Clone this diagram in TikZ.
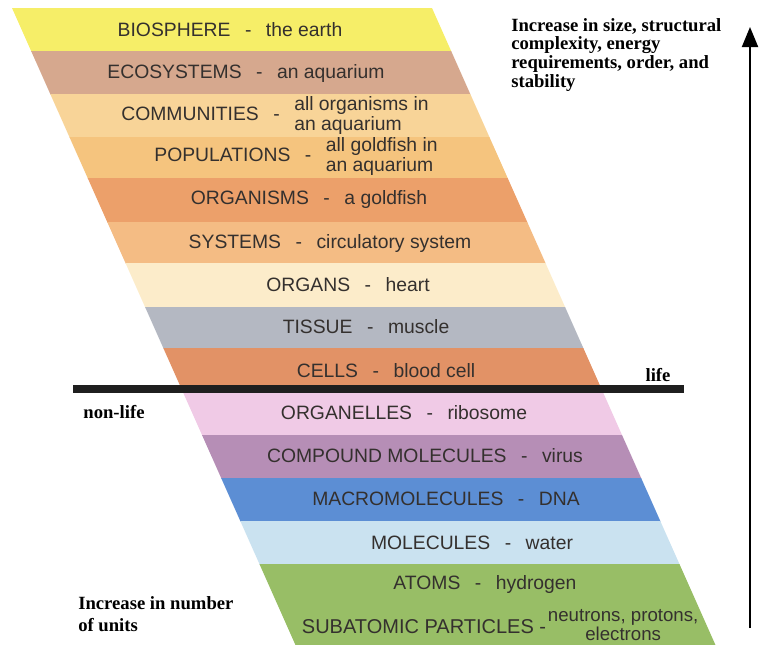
\documentclass[tikz,border=0pt]{standalone}
\usepackage{fontspec}
\setmainfont{Liberation Serif}
\setsansfont{Liberation Sans}
\usepackage{tikz}
\usetikzlibrary{arrows.meta}

\definecolor{bioC}{RGB}{246,238,104}
\definecolor{ecoC}{RGB}{214,168,142}
\definecolor{comC}{RGB}{248,212,152}
\definecolor{popC}{RGB}{245,196,126}
\definecolor{orgC}{RGB}{236,160,106}
\definecolor{sysC}{RGB}{244,188,132}
\definecolor{orgnC}{RGB}{252,236,202}
\definecolor{tisC}{RGB}{180,184,194}
\definecolor{celC}{RGB}{226,146,102}
\definecolor{elleC}{RGB}{240,202,230}
\definecolor{compC}{RGB}{182,142,182}
\definecolor{macC}{RGB}{92,142,212}
\definecolor{molC}{RGB}{202,226,240}
\definecolor{atoC}{RGB}{152,190,102}
\definecolor{lvltext}{RGB}{52,48,46}

\newcommand{\lsep}{\hspace{0.75em}-\hspace{0.75em}}
\newcommand{\twoline}[2]{\begin{tabular}{@{}l@{}}#1\\#2\end{tabular}}

\begin{document}
\begin{tikzpicture}[
x=0.75pt, y=-0.75pt,
level/.style={font=\sffamily\fontsize{14.5}{15}\selectfont, text=lvltext, inner sep=0pt},
note/.style={font=\bfseries\fontsize{14}{14}\selectfont, align=left, inner sep=0pt, anchor=north west},
lifeline/.style={line width=6pt, black!88},
uparrow/.style={-{Triangle[length=15pt,width=12pt]}, line width=1.5pt}
]
\useasboundingbox (0,0) rectangle (759,644);

% slanted bands
\foreach \top/\bot/\col in {8/51/bioC, 51/94/ecoC, 94/137/comC, 137/178/popC,
  178/222/orgC, 222/263/sysC, 263/307/orgnC, 307/348/tisC, 348/391/celC,
  391/435/elleC, 435/478/compC, 478/521/macC, 521/564/molC, 564/645/atoC}
  \fill[\col] ({12+0.445*(\top-8)},\top) -- ({432+0.445*(\top-8)},\top)
    -- ({432+0.445*(\bot+0.5-8)},\bot+0.5) -- ({12+0.445*(\bot+0.5-8)},\bot+0.5) -- cycle;

% level labels
\node[level] (bio) at (230,30) {BIOSPHERE\lsep the earth};
\node[level] (eco) at (246,73) {ECOSYSTEMS\lsep an aquarium};
\node[level] (com) at (275,116) {COMMUNITIES\lsep\twoline{all organisms in}{an aquarium}};
\node[level] (pop) at (296,157) {POPULATIONS\lsep\twoline{all goldfish in}{an aquarium}};
\node[level] (org) at (309,199) {ORGANISMS\lsep a goldfish};
\node[level] (sys) at (330,243) {SYSTEMS\lsep circulatory system};
\node[level] (orgn) at (348,285) {ORGANS\lsep heart};
\node[level] (tis) at (366,327) {TISSUE\lsep muscle};
\node[level] (cel) at (386,371) {CELLS\lsep blood cell};
\node[level] (elle) at (404,413) {ORGANELLES\lsep ribosome};
\node[level] (comp) at (425,456) {COMPOUND MOLECULES\lsep virus};
\node[level] (mac) at (446,499) {MACROMOLECULES\lsep DNA};
\node[level] (mol) at (472,543) {MOLECULES\lsep water};
\node[level] (ato) at (485,584) {ATOMS\lsep hydrogen};
\node[level, font=\sffamily\fontsize{15}{15}\selectfont] (sub) at (424,627) {SUBATOMIC PARTICLES -};
\node[level, font=\sffamily\fontsize{14}{12}\selectfont, align=center, anchor=west]
  (subx) at ([xshift=1pt,yshift=1.5pt]sub.east) {neutrons, protons,\\electrons};

% life line
\coordinate (lifeL) at (73,389);
\coordinate (lifeR) at (684,389);
\draw[lifeline] (lifeL) -- (lifeR);
\node[note, anchor=base] (life) at (658,381) {life};
\node[note, anchor=base] (nonlife) at (114,418) {non-life};

% side notes
\node[note] (size) at (511,18) {Increase in size, structural\\complexity, energy\\requirements, order, and\\stability};
\node[note, font=\bfseries\fontsize{14}{16.5}\selectfont] (units) at (78,596) {Increase in number\\of units};

% arrow
\coordinate (arrFoot) at (750,628);
\coordinate (arrTip) at (750,27);
\draw[uparrow] (arrFoot) -- (arrTip);
\end{tikzpicture}
\end{document}
